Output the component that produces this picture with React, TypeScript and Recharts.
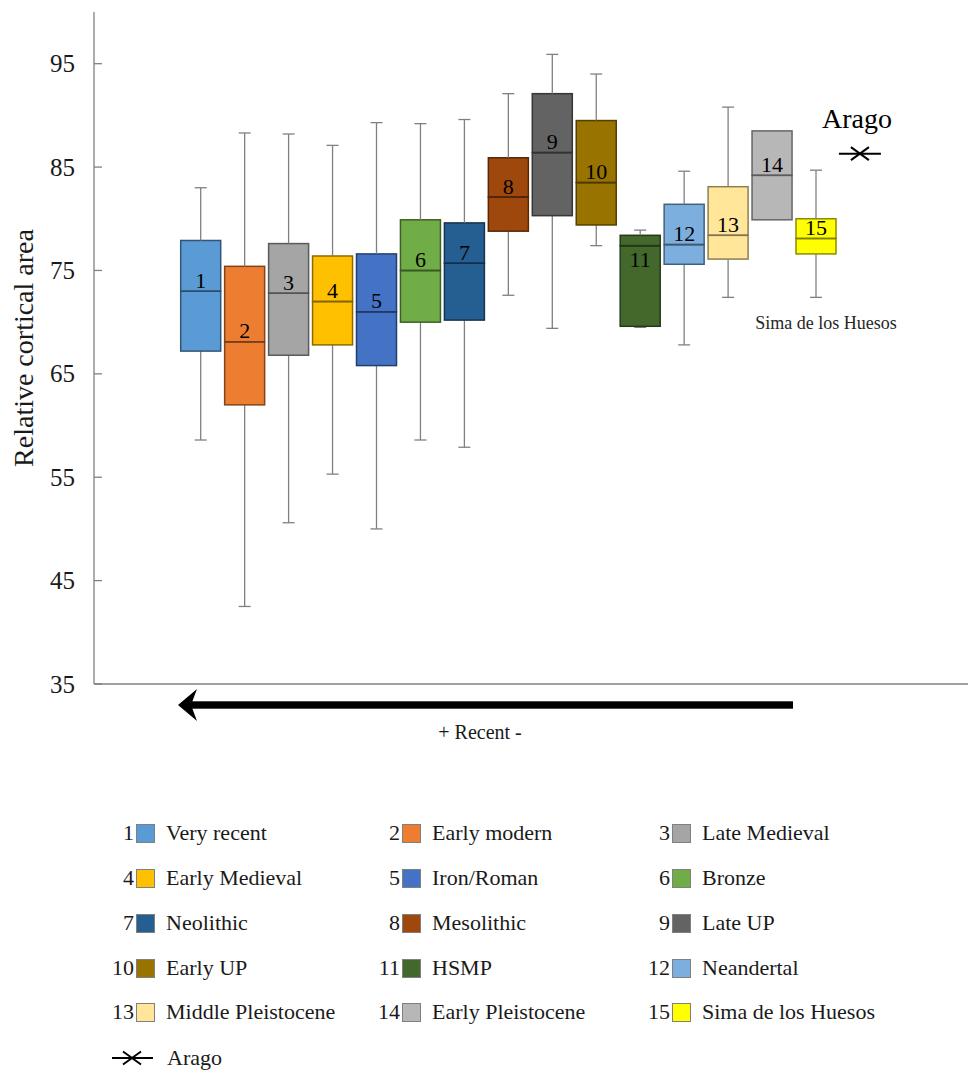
import { ComposedChart, Bar, Scatter, XAxis, YAxis, ReferenceDot } from "recharts";

const groups = [
  "Very recent", "Early modern", "Late Medieval", "Early Medieval", "Iron/Roman",
  "Bronze", "Neolithic", "Mesolithic", "Late UP", "Early UP",
  "HSMP", "Neandertal", "Middle Pleistocene", "Early Pleistocene", "Sima de los Huesos",
];
const whiskerLow = [58.6, 42.5, 50.6, 55.3, 50.0, 58.6, 57.9, 72.6, 69.4, 77.4, 69.5, 67.8, 72.4, 79.9, 72.4];
const q1 = [67.2, 62.0, 66.8, 67.8, 65.8, 70.0, 70.2, 78.8, 80.3, 79.4, 69.6, 75.6, 76.1, 79.9, 76.6];
const median = [73.0, 68.1, 72.8, 72.0, 71.0, 75.0, 75.7, 82.1, 86.4, 83.5, 77.4, 77.5, 78.4, 84.2, 78.1];
const q3 = [77.9, 75.4, 77.6, 76.4, 76.6, 79.9, 79.6, 85.9, 92.1, 89.5, 78.4, 81.4, 83.1, 88.5, 80.0];
const whiskerHigh = [83.0, 88.3, 88.2, 87.1, 89.3, 89.2, 89.6, 92.1, 95.9, 94.0, 78.9, 84.6, 90.8, 88.5, 84.7];
const aragoName = "Arago";
const aragoValue = 86.3;
const yTicks = [35, 45, 55, 65, 75, 85, 95];

const colors = [
  "#5B9BD5", "#ED7D31", "#A5A5A5", "#FFC000", "#4472C4",
  "#70AD47", "#255E91", "#9E480E", "#636363", "#997300",
  "#43682B", "#7CAFDD", "#FFE699", "#B7B7B7", "#FFFF00",
];

const darken = (hex: string, f: number) => {
  const n = parseInt(hex.slice(1), 16);
  const r = Math.round(((n >> 16) & 255) * f);
  const g = Math.round(((n >> 8) & 255) * f);
  const b = Math.round((n & 255) * f);
  return `rgb(${r},${g},${b})`;
};

const data: any[] = groups.map((name, i) => ({
  name,
  idx: i,
  base: whiskerLow[i],
  wLow: +(q1[i] - whiskerLow[i]).toFixed(2),
  boxLow: +(median[i] - q1[i]).toFixed(2),
  boxHigh: +(q3[i] - median[i]).toFixed(2),
  wHigh: +(whiskerHigh[i] - q3[i]).toFixed(2),
}));
data.push({ name: aragoName, arago: aragoValue });

const axisColor = "#808080";
const textColor = "#1a1a1a";

const Empty = () => <g />;

const whisker = (capAtTop: boolean) => (props: any) => {
  const { x, y, width, height, payload } = props;
  if (!payload || payload.idx == null || !(height > 0.5)) return <g />;
  const cx = x + width / 2;
  const capY = capAtTop ? y : y + height;
  return (
    <g>
      <line x1={cx} x2={cx} y1={y} y2={y + height} stroke={axisColor} strokeWidth={1.3} />
      <line x1={cx - 6} x2={cx + 6} y1={capY} y2={capY} stroke={axisColor} strokeWidth={1.3} />
    </g>
  );
};

const BoxLow = (props: any) => {
  const { x, y, width, height, payload } = props;
  if (!payload || payload.idx == null) return <g />;
  const c = colors[payload.idx];
  return <rect x={x} y={y} width={width} height={height} fill={c} stroke={darken(c, 0.55)} strokeWidth={1.5} />;
};

const BoxHigh = (props: any) => {
  const { x, y, width, height, payload } = props;
  if (!payload || payload.idx == null) return <g />;
  const c = colors[payload.idx];
  const my = y + height;
  const ly = height > 14 ? my - 11 : my + 14;
  return (
    <g>
      <rect x={x} y={y} width={width} height={height} fill={c} stroke={darken(c, 0.55)} strokeWidth={1.5} />
      <line x1={x} x2={x + width} y1={my} y2={my} stroke={darken(c, 0.5)} strokeWidth={1.5} />
      <text x={x + width / 2} y={ly} textAnchor="middle" dominantBaseline="central" fontSize={22} fill="#000">
        {payload.idx + 1}
      </text>
    </g>
  );
};

const AragoMark = (props: any) => {
  const { cx, cy, payload } = props;
  if (!payload || payload.arago == null || !isFinite(cy)) return <g />;
  return (
    <g>
      <line x1={cx - 21} x2={cx + 21} y1={cy} y2={cy} stroke="#000" strokeWidth={2} />
      <line x1={cx - 9} x2={cx + 9} y1={cy - 6.5} y2={cy + 6.5} stroke="#000" strokeWidth={2} />
      <line x1={cx - 9} x2={cx + 9} y1={cy + 6.5} y2={cy - 6.5} stroke="#000" strokeWidth={2} />
      <text x={cx - 3} y={cy - 35} textAnchor="middle" dominantBaseline="central" fontSize={28} fill="#000">
        {aragoName}
      </text>
    </g>
  );
};

const YTick = (props: any) => {
  const { x, y, payload } = props;
  return (
    <g>
      <line x1={x} x2={x + 8} y1={y} y2={y} stroke={axisColor} strokeWidth={1.3} />
      <text x={x - 19} y={y} textAnchor="end" dominantBaseline="central" fontSize={25} fill={textColor}>
        {payload.value}
      </text>
    </g>
  );
};

const YLabel = (props: any) => {
  const vb = props.viewBox;
  const cx = vb.x + 23;
  const cy = vb.y + vb.height / 2;
  return (
    <text x={cx} y={cy} transform={`rotate(-90, ${cx}, ${cy})`} textAnchor="middle" dominantBaseline="central" fontSize={28} fill={textColor}>
      Relative cortical area
    </text>
  );
};

const XLabel = (props: any) => {
  const vb = props.viewBox;
  const ay = vb.y + 21;
  const tip = vb.x + 84;
  const end = vb.x + 699;
  return (
    <g>
      <rect x={tip + 11} y={ay - 3.7} width={end - tip - 11} height={7.4} fill="#000" />
      <polygon points={`${tip},${ay} ${tip + 19},${ay - 16} ${tip + 13},${ay} ${tip + 19},${ay + 16}`} fill="#000" />
      <text x={vb.x + 386} y={ay + 27} textAnchor="middle" dominantBaseline="central" fontSize={20} fill={textColor}>
        + Recent -
      </text>
    </g>
  );
};

const colLeft = [104, 370, 640];
const rowTop = [833, 878, 923, 968, 1012, 1058];

const Legend = () => (
  <>
    {groups.map((g, i) => (
      <div
        key={g}
        style={{
          position: "absolute",
          left: colLeft[i % 3],
          top: rowTop[Math.floor(i / 3)] - 13,
          height: 26,
          display: "flex",
          alignItems: "center",
          fontSize: 22,
          color: textColor,
          whiteSpace: "nowrap",
        }}
      >
        <span style={{ width: 30, textAlign: "right" }}>{i + 1}</span>
        <span style={{ width: 17, height: 17, marginLeft: 2, background: colors[i], border: "1px solid #808080" }} />
        <span style={{ marginLeft: 11 }}>{g}</span>
      </div>
    ))}
    <div
      style={{
        position: "absolute",
        left: 112,
        top: rowTop[5] - 13,
        height: 26,
        display: "flex",
        alignItems: "center",
        fontSize: 22,
        color: textColor,
      }}
    >
      <svg width={42} height={20}>
        <line x1={0} x2={41} y1={10} y2={10} stroke="#000" strokeWidth={2} />
        <line x1={11} x2={29} y1={3.5} y2={16.5} stroke="#000" strokeWidth={2} />
        <line x1={11} x2={29} y1={16.5} y2={3.5} stroke="#000" strokeWidth={2} />
      </svg>
      <span style={{ marginLeft: 13 }}>{aragoName}</span>
    </div>
  </>
);

export default function App() {
  return (
    <div style={{ position: "absolute", left: 0, top: 0, width: 968, height: 1070, background: "#fff", fontFamily: "'Liberation Serif', 'Times New Roman', serif" }}>
      <ComposedChart width={968} height={760} data={data} margin={{ top: 12, right: 0, left: 0, bottom: 0 }}>
        <XAxis
          dataKey="name"
          type="category"
          padding={{ left: 84.7, right: 86.1 }}
          tick={false}
          tickLine={false}
          height={76}
          axisLine={{ stroke: axisColor, strokeWidth: 1.3 }}
          label={<XLabel />}
        />
        <YAxis
          type="number"
          domain={[35, 100]}
          allowDataOverflow
          ticks={yTicks}
          width={94}
          tickLine={false}
          tickSize={0}
          tickMargin={0}
          tick={<YTick />}
          axisLine={{ stroke: axisColor, strokeWidth: 1.3 }}
          label={<YLabel />}
        />
        <Bar dataKey="base" stackId="box" barSize={40} shape={<Empty />} isAnimationActive={false} />
        <Bar dataKey="wLow" stackId="box" barSize={40} shape={whisker(false)} isAnimationActive={false} />
        <Bar dataKey="boxLow" stackId="box" barSize={40} shape={<BoxLow />} isAnimationActive={false} />
        <Bar dataKey="boxHigh" stackId="box" barSize={40} shape={<BoxHigh />} isAnimationActive={false} />
        <Bar dataKey="wHigh" stackId="box" barSize={40} shape={whisker(true)} isAnimationActive={false} />
        <Scatter dataKey="arago" shape={<AragoMark />} isAnimationActive={false} />
        <ReferenceDot
          x={groups[14]}
          y={70}
          r={1}
          fill="none"
          stroke="none"
          label={{ value: "Sima de los Huesos", position: "center", dx: 10, fontSize: 18, fill: "#262626" }}
        />
      </ComposedChart>
      <Legend />
    </div>
  );
}
